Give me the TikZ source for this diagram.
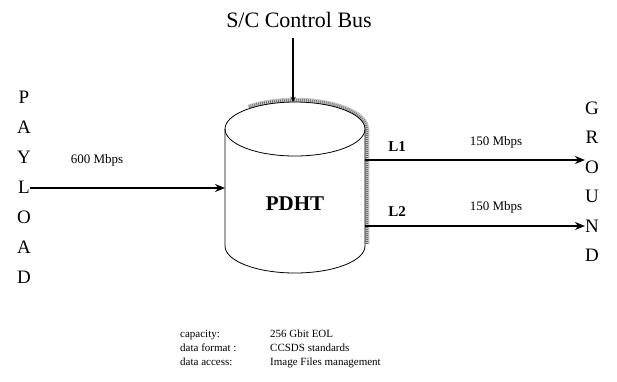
\documentclass[tikz,border=0pt]{standalone}
\usepackage{fontspec}
\setmainfont{Liberation Serif}
\usetikzlibrary{arrows.meta}

\tikzset{
  letter/.style={inner sep=0pt, font=\fontsize{19}{19}\selectfont},
  rate/.style={inner sep=0pt, font=\fontsize{13}{13}\selectfont},
  linkname/.style={inner sep=0pt, font=\fontsize{15}{15}\selectfont\bfseries},
  link/.style={line width=1.7pt, -{Stealth[length=10pt, width=8pt]}},
  rim/.style={gray!45, line width=4.5pt},
  rimdots/.style={gray!85!black, line width=2.5pt, dash pattern=on 0.7pt off 1.3pt},
}

\begin{document}
\begin{tikzpicture}[x=1pt, y=-1pt, >=stealth]
            \useasboundingbox (0,0) rectangle (617,381);

            % cylinder
            \foreach \s in {rim, rimdots}
                \draw[\s] (295,129) ++(130:72pt and 29pt) arc[start angle=130, end angle=0, x radius=72pt, y radius=29pt] -- (367,244);
            \draw[line width=0.8pt] (295,129) ellipse [x radius=70pt, y radius=27pt];
            \draw[line width=0.8pt] (225,129) -- (225,246) arc[start angle=180, end angle=360, x radius=70pt, y radius=27pt] -- (365,129);
            \node[inner sep=0pt, font=\fontsize{21}{21}\selectfont\bfseries] (pdht) at (295,204) {PDHT};
            \coordinate (cylN) at (293,102);
            \coordinate (cylW) at (225,188);
            \coordinate (out1) at (365,160);
            \coordinate (out2) at (365,226);

            % control bus
            \node[inner sep=0pt, font=\fontsize{22}{22}\selectfont] (bus) at (299,20) {S/C Control Bus};
            \draw[line width=1.3pt, ->] (cylN |- 0,38) -- (cylN);

            % payload side
            \foreach \c [count=\i] in {P,A,Y,L,O,A,D}
                \node[letter] (pay\i) at (24, 67+30*\i) {\c};
            \draw[link] (pay4.east |- cylW) -- (cylW);
            \node[rate] (inrate) at (97,160) {600 Mbps};

            % ground side
            \foreach \c [count=\i] in {G,R,O,U,N,D}
                \node[letter] (gnd\i) at (592, 78.5+29.5*\i) {\c};
            \draw[link] (out1) -- (out1 -| gnd3.west);
            \draw[link] (out2) -- (out2 -| gnd5.west);
            \node[linkname] (l1) at (397,147) {L1};
            \node[linkname] (l2) at (397,212) {L2};
            \node[rate] (rate1) at (496,142) {150 Mbps};
            \node[rate] (rate2) at (496,207) {150 Mbps};

            % storage figures
            \node[inner sep=0pt, anchor=north west, font=\fontsize{11}{14}\selectfont] (specs) at (180,327) {%
                \begin{tabular}{@{}p{90pt}@{}l@{}}
                    capacity: & 256 Gbit EOL\\
                    data format : & CCSDS standards\\
                    data access: & Image Files management
                \end{tabular}};
        \end{tikzpicture}
\end{document}
